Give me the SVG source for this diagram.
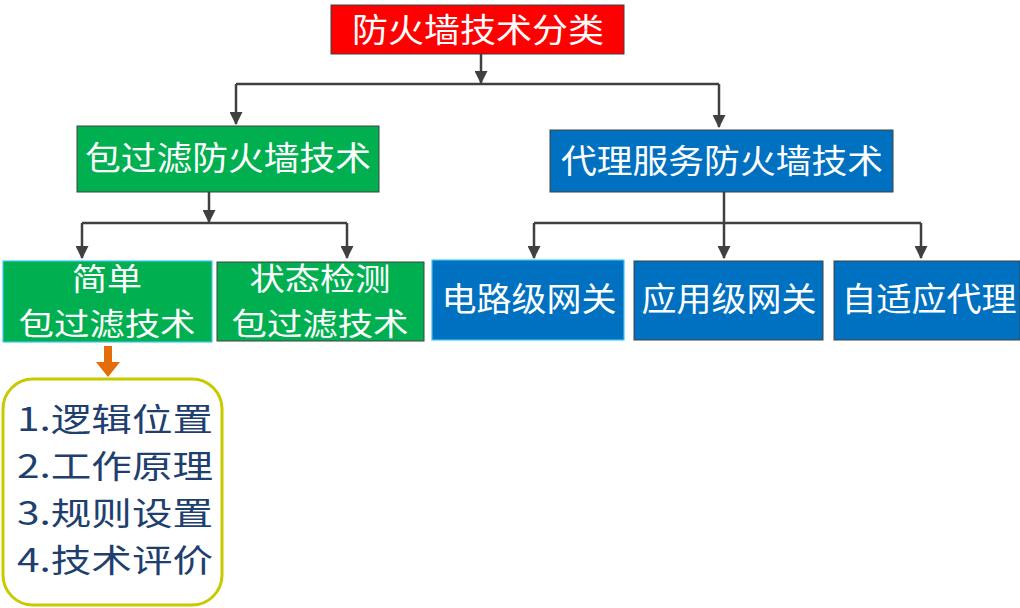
<svg xmlns="http://www.w3.org/2000/svg" width="1020" height="608" viewBox="0 0 1020 608">
<defs>
<style>
.lbl{font-family:"Noto Sans CJK SC","Noto Sans",sans-serif;font-size:33px;fill:#ffffff;text-anchor:middle}
.two{font-size:31px}
.red{fill:#FF0000;stroke:#404040;stroke-width:1}
.green{fill:#00B050;stroke:#404040;stroke-width:1}
.blue{fill:#0070C0;stroke:#404040;stroke-width:1}
.hl{stroke:#3FC8F0;stroke-width:1.2}
.con{fill:none;stroke:#404040;stroke-width:2.5}
.list{font-family:"Noto Sans CJK SC","Noto Sans",sans-serif;font-size:32px;fill:#1F3F6F}
</style>
<marker id="ah" viewBox="0 0 12 12" refX="11" refY="6" markerWidth="13" markerHeight="13" markerUnits="userSpaceOnUse" orient="auto">
<path d="M0,0 L12,6 L0,12 Z" fill="#404040"/>
</marker>
</defs>
<rect width="1020" height="608" fill="#ffffff"/>
<g id="connectors">
<path class="con" d="M481,54 V83" marker-end="url(#ah)"/>
<path class="con" d="M719,84 H236"/>
<path class="con" d="M236,84 V124" marker-end="url(#ah)"/>
<path class="con" d="M719,84 V127" marker-end="url(#ah)"/>
<path class="con" d="M209,192 V222" marker-end="url(#ah)"/>
<path class="con" d="M82,223 H347"/>
<path class="con" d="M82,223 V258" marker-end="url(#ah)"/>
<path class="con" d="M347,223 V258" marker-end="url(#ah)"/>
<path class="con" d="M724,192 V258" marker-end="url(#ah)"/>
<path class="con" d="M534,223 H921"/>
<path class="con" d="M534,223 V258" marker-end="url(#ah)"/>
<path class="con" d="M921,223 V258" marker-end="url(#ah)"/>
<polygon points="104,346 112,346 112,362 120,362 108,377 96,362 104,362" fill="#E46C0A"/>
</g>
<g id="root">
<rect class="red" x="331" y="5" width="293" height="49"/>
<text class="lbl" x="478" y="42" font-size="32" textLength="252" lengthAdjust="spacingAndGlyphs">防火墙技术分类</text>
</g>
<g id="packet">
<rect class="green" x="77" y="126" width="302" height="66"/>
<text class="lbl" x="228" y="170" textLength="286" lengthAdjust="spacingAndGlyphs">包过滤防火墙技术</text>
</g>
<g id="proxy">
<rect class="blue" x="550" y="130" width="343" height="62"/>
<text class="lbl" x="722" y="173" textLength="322" lengthAdjust="spacingAndGlyphs">代理服务防火墙技术</text>
</g>
<g id="simple">
<rect class="green hl" x="3" y="261" width="209" height="81"/>
<text class="lbl two" x="107" y="290" textLength="70" lengthAdjust="spacingAndGlyphs">简单</text>
<text class="lbl two" x="107" y="335" textLength="177" lengthAdjust="spacingAndGlyphs">包过滤技术</text>
</g>
<g id="stateful">
<rect class="green" x="217" y="262" width="207" height="79"/>
<text class="lbl two" x="320" y="290" textLength="141" lengthAdjust="spacingAndGlyphs">状态检测</text>
<text class="lbl two" x="320" y="335" textLength="177" lengthAdjust="spacingAndGlyphs">包过滤技术</text>
</g>
<g id="circuit">
<rect class="blue hl" x="432" y="260" width="192" height="80"/>
<text class="lbl" x="529" y="311" textLength="175" lengthAdjust="spacingAndGlyphs">电路级网关</text>
</g>
<g id="application">
<rect class="blue" x="634" y="261" width="189" height="79"/>
<text class="lbl" x="729" y="311" textLength="175" lengthAdjust="spacingAndGlyphs">应用级网关</text>
</g>
<g id="adaptive">
<rect class="blue" x="834" y="261" width="186" height="79"/>
<text class="lbl" x="929" y="311" textLength="175" lengthAdjust="spacingAndGlyphs">自适应代理</text>
</g>
<g id="notes">
<rect x="3" y="379" width="219" height="226" rx="30" ry="30" fill="#ffffff" stroke="#C9C900" stroke-width="3"/>
<text class="list" x="17" y="431" textLength="196" lengthAdjust="spacingAndGlyphs">1.逻辑位置</text>
<text class="list" x="17" y="478" textLength="196" lengthAdjust="spacingAndGlyphs">2.工作原理</text>
<text class="list" x="17" y="525" textLength="196" lengthAdjust="spacingAndGlyphs">3.规则设置</text>
<text class="list" x="17" y="572" textLength="196" lengthAdjust="spacingAndGlyphs">4.技术评价</text>
</g>
</svg>
